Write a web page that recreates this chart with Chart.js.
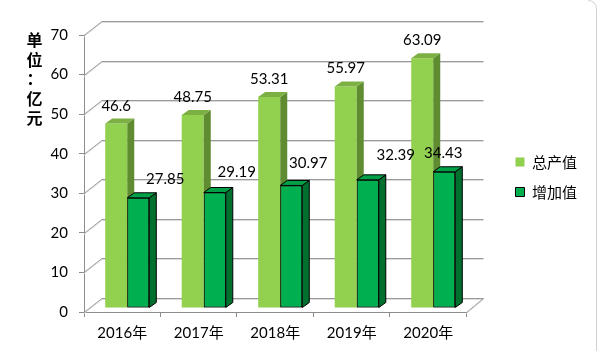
<!DOCTYPE html>
<html>
<head>
<meta charset="utf-8">
<script src="https://cdn.jsdelivr.net/npm/chart.js@4.4.1/dist/chart.umd.min.js"></script>
<style>
  html, body { margin: 0; padding: 0; background: #fff; }
  #wrap { position: relative; width: 597px; height: 351px; overflow: hidden; }
  #c { position: absolute; left: 0; top: 0; }
  #unit { position: absolute; left: 26px; top: 30px; width: 17px; font: bold 16px 'Noto Sans CJK SC', sans-serif; line-height: 19.5px; color: #000; text-align: center; }
</style>
</head>
<body>
<div id="wrap">
  <canvas id="c" width="597" height="351"></canvas>
  <div id="unit">单<br>位<br>：<br>亿<br>元</div>
</div>
<script>
// ---- data ----
const categories = ['2016年', '2017年', '2018年', '2019年', '2020年'];
const totalOutput = [46.6, 48.75, 53.31, 55.97, 63.09];   // 总产值
const addedValue = [27.85, 29.19, 30.97, 32.39, 34.43];   // 增加值
const seriesNames = ['总产值', '增加值'];
const yTickValues = [0, 10, 20, 30, 40, 50, 60, 70];

// ---- style ----
const WALL = { dx: 18, dy: -14 };     // depth of the back wall
const SHIFT = { dx: 5, dy: -4 };      // bar plane offset from front plane
const DEPTH = { dx: 7, dy: -5 };      // bar depth
const labelNudgeLight = { dx: [0, 0, 0, 0, 0], dy: [-17.5, -17.5, -18, -18.5, -18] };
const labelNudgeDark = { dx: [27, 22, 17, 28, -1], dy: [-19, -20.5, -22.5, -25, -19] };
const faceColors = [
  { top: '#7DB043', side: '#5F8C31', stroke: null },
  { top: '#00A047', side: '#00702F', stroke: '#000' }
];

function drawFaces(ctx, meta, fc) {
  ctx.save();
  ctx.lineWidth = 1;
  meta.data.forEach(el => {
    const p = el.getProps(['x', 'y', 'base', 'width'], true);
    const l = p.x - p.width / 2, r = p.x + p.width / 2, t = p.y, b = p.base;
    ctx.beginPath();
    ctx.moveTo(r, t);
    ctx.lineTo(r + DEPTH.dx, t + DEPTH.dy);
    ctx.lineTo(r + DEPTH.dx, b + DEPTH.dy);
    ctx.lineTo(r, b);
    ctx.closePath();
    ctx.fillStyle = fc.side;
    ctx.fill();
    if (fc.stroke) { ctx.strokeStyle = fc.stroke; ctx.stroke(); }
    ctx.beginPath();
    ctx.moveTo(l, t);
    ctx.lineTo(l + DEPTH.dx, t + DEPTH.dy);
    ctx.lineTo(r + DEPTH.dx, t + DEPTH.dy);
    ctx.lineTo(r, t);
    ctx.closePath();
    ctx.fillStyle = fc.top;
    ctx.fill();
    if (fc.stroke) { ctx.strokeStyle = fc.stroke; ctx.stroke(); }
  });
  ctx.restore();
}

const threeD = {
  id: 'threeD',
  beforeDatasetsDraw(chart) {
    const { ctx, chartArea: a, scales: { y } } = chart;
    ctx.save();
    ctx.lineWidth = 1;
    const drawWall = (color, off) => {
      ctx.strokeStyle = color;
      ctx.beginPath();
      yTickValues.forEach(v => {
        const yf = Math.round(y.getPixelForValue(v)) + 0.5 + off;
        ctx.moveTo(a.left, yf);
        ctx.lineTo(a.left + WALL.dx, yf + WALL.dy);
        ctx.lineTo(a.right + WALL.dx - 1, yf + WALL.dy);
      });
      const yb = Math.round(y.getPixelForValue(0)) + 0.5 + off;
      ctx.moveTo(a.right, yb);
      ctx.lineTo(a.right + WALL.dx - 1, yb + WALL.dy);
      ctx.stroke();
    };
    drawWall('#dcdcdc', 1);
    drawWall('#9a9a9a', 0);
    ctx.strokeStyle = '#d0d0d0';
    ctx.beginPath();
    ctx.moveTo(588, 0.5);
    ctx.arcTo(596.5, 0.5, 596.5, 10, 8);
    ctx.lineTo(596.5, 351);
    ctx.stroke();
    ctx.restore();
    ctx.save();
    ctx.translate(SHIFT.dx, SHIFT.dy);
  },
  afterDatasetsDraw(chart) {
    const { ctx } = chart;
    const m0 = chart.getDatasetMeta(0), m1 = chart.getDatasetMeta(1);
    // depth faces of the light bars, then the dark bars re-drawn in front of them
    drawFaces(ctx, m0, faceColors[0]);
    m1.data.forEach(el => el.draw(ctx));
    drawFaces(ctx, m1, faceColors[1]);
    // value labels
    ctx.save();
    ctx.font = "15px Lato, 'Noto Sans CJK SC', sans-serif";
    ctx.fillStyle = '#000';
    ctx.textAlign = 'center';
    ctx.textBaseline = 'middle';
    chart.data.datasets.forEach((ds, di) => {
      const meta = chart.getDatasetMeta(di);
      const nudge = di === 0 ? labelNudgeLight : labelNudgeDark;
      meta.data.forEach((el, i) => {
        const p = el.getProps(['x', 'y'], true);
        ctx.fillText(String(ds.data[i]), p.x + nudge.dx[i], p.y + nudge.dy[i]);
      });
    });
    ctx.restore();
    ctx.restore(); // undo translate
  }
};

Chart.defaults.font.family = "Lato, 'Noto Sans CJK SC', sans-serif";
Chart.defaults.font.size = 15;
Chart.defaults.color = '#000';

new Chart(document.getElementById('c'), {
  type: 'bar',
  data: {
    labels: categories,
    datasets: [
      { label: seriesNames[0], data: totalOutput, backgroundColor: '#92D050', borderWidth: 0 },
      { label: seriesNames[1], data: addedValue, backgroundColor: '#00B050', borderColor: '#000', borderWidth: 1, borderSkipped: false }
    ]
  },
  options: {
    responsive: false,
    animation: false,
    devicePixelRatio: 1,
    categoryPercentage: 0.576,
    barPercentage: 1,
    layout: { padding: { left: 0, right: 10, top: 3, bottom: 0 } },
    plugins: {
      tooltip: { enabled: false },
      legend: {
        position: 'right',
        labels: {
          boxWidth: 9, boxHeight: 9, padding: 15,
          font: { size: 15, family: "'Noto Sans CJK SC', sans-serif" }
        }
      }
    },
    scales: {
      x: {
        grid: { display: true, drawOnChartArea: false, drawTicks: true, tickLength: 5, color: '#8c8c8c', offset: true },
        border: { display: true, color: '#8c8c8c' },
        ticks: { padding: 7, maxRotation: 0 },
        afterFit(s) { s.height = 39; }
      },
      y: {
        min: 0, max: 70,
        afterBuildTicks(s) { s.ticks = yTickValues.map(v => ({ value: v })); },
        grid: { display: true, drawOnChartArea: false, drawTicks: true, tickLength: 5, color: '#8c8c8c' },
        border: { display: true, color: '#8c8c8c' },
        ticks: { padding: 11 },
        afterFit(s) { s.width = 84; }
      },
      gapRight: {
        type: 'linear', position: 'right', display: true,
        grid: { display: false }, border: { display: false }, ticks: { display: false },
        afterFit(s) { s.width = 34; }
      },
      gapTop: {
        type: 'linear', position: 'top', display: true,
        grid: { display: false }, border: { display: false }, ticks: { display: false },
        afterFit(s) { s.height = 32; }
      }
    }
  },
  plugins: [threeD]
});
</script>
</body>
</html>
